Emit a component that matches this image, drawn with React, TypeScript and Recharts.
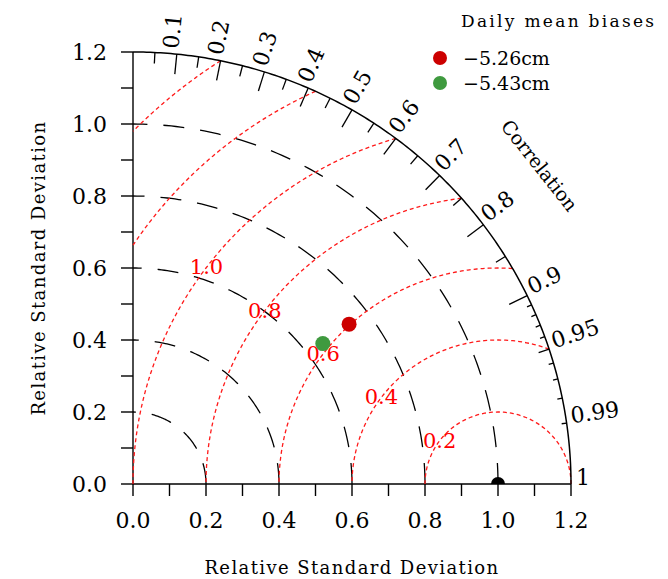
import React from 'react'
import { ScatterChart, Scatter, XAxis, YAxis } from 'recharts'

const FONT = '"DejaVu Serif", serif'

// axis ticks (relative standard deviation)
const axisTicks = [0, 0.1, 0.2, 0.3, 0.4, 0.5, 0.6, 0.7, 0.8, 0.9, 1.0, 1.1, 1.2]

// std dev contours (black, long dash) and centred RMS contours (red, short dash)
const stdArcRadii = [0.2, 0.4, 0.6, 0.8, 1.0]
const rmsArcRadii = [0.2, 0.4, 0.6, 0.8, 1.0, 1.2, 1.4]
const rmsLabelValues = [0.2, 0.4, 0.6, 0.8, 1.0]
const OUTER = 1.2

// correlation scale on the outer arc
const corrLabelValues = [0.1, 0.2, 0.3, 0.4, 0.5, 0.6, 0.7, 0.8, 0.9, 0.95, 0.99, 1]
const corrLabels = ['0.1', '0.2', '0.3', '0.4', '0.5', '0.6', '0.7', '0.8', '0.9', '0.95', '0.99', '1']
const corrMajorTicks = [0.1, 0.2, 0.3, 0.4, 0.5, 0.6, 0.7, 0.8, 0.9]
const corrMidTicks = [0.05, 0.15, 0.25, 0.35, 0.45, 0.55, 0.65, 0.75, 0.85, 0.95]
const corrFineTicks = [0.91, 0.92, 0.93, 0.94, 0.96, 0.97, 0.98, 0.99]

// models
const modelNames = ['\u22125.26cm', '\u22125.43cm']
const modelStd = [0.74, 0.65]
const modelCorr = [0.8, 0.8]
const modelColors = ['#cc0000', '#3f9a3f']

const polar = (r: number, t: number) => ({ x: r * Math.cos(t), y: r * Math.sin(t), t })

const arc = (cx: number, r: number, a0: number, a1: number, n = 120) => {
  const pts = []
  for (let i = 0; i <= n; i++) {
    const a = a0 + ((a1 - a0) * i) / n
    pts.push({ x: cx + r * Math.cos(a), y: r * Math.sin(a) })
  }
  return pts
}

const stdArcs = stdArcRadii.map(r => arc(0, r, 0, Math.PI / 2))
const outerArc = arc(0, OUTER, 0, Math.PI / 2, 200)
const rmsArcs = rmsArcRadii.map(r => {
  const xi = (1 + OUTER * OUTER - r * r) / 2
  const a0 = Math.atan2(Math.sqrt(Math.max(0, OUTER * OUTER - xi * xi)), xi - 1)
  const a1 = r >= 1 ? Math.atan2(Math.sqrt(r * r - 1), -1) : Math.PI
  return arc(1, r, a0, a1)
})

const rmsLabelAngle = (143 * Math.PI) / 180
const rmsLabelPts = rmsLabelValues.map(r => ({
  x: 1 + r * Math.cos(rmsLabelAngle),
  y: r * Math.sin(rmsLabelAngle),
  label: r.toFixed(1),
}))

const corrPts = (vals: number[]) => vals.map(c => polar(OUTER, Math.acos(c)))
const corrLabelPts = corrLabelValues.map((c, i) => ({ ...polar(OUTER, Math.acos(c)), label: corrLabels[i] }))

const modelPts = modelStd.map((s, i) => ({
  x: s * modelCorr[i],
  y: s * Math.sqrt(1 - modelCorr[i] * modelCorr[i]),
}))

const refPt = [{ x: 1, y: 0 }]
const corrTitleAngle = (38.4 * Math.PI) / 180
const corrTitlePt = [polar(OUTER, corrTitleAngle)]
const xTitlePt = [{ x: 0.6, y: 0 }]
const yTitlePt = [{ x: 0, y: 0.6 }]

const none = () => <g />

const tickShape = (len: number) => (p: any) => {
  const t = p.payload.t
  return (
    <line
      x1={p.cx}
      y1={p.cy}
      x2={p.cx - len * Math.cos(t)}
      y2={p.cy + len * Math.sin(t)}
      stroke="#000"
      strokeWidth={1.3}
    />
  )
}

const corrLabelShape = (p: any) => {
  const deg = (p.payload.t * 180) / Math.PI
  return (
    <text
      x={p.cx + 5}
      y={p.cy + 1}
      transform={`rotate(${-deg}, ${p.cx}, ${p.cy})`}
      fontFamily={FONT}
      fontSize={22}
      fill="#000"
    >
      {p.payload.label}
    </text>
  )
}

const rmsLabelShape = (p: any) => (
  <text
    x={p.cx}
    y={p.cy}
    textAnchor="middle"
    dominantBaseline="central"
    fontFamily={FONT}
    fontSize={21}
    fill="#ff0000"
  >
    {p.payload.label}
  </text>
)

const refShape = (p: any) => (
  <path d={`M ${p.cx - 7} ${p.cy} A 7 7 0 0 1 ${p.cx + 7} ${p.cy} Z`} fill="#000" />
)

const corrTitleShape = (p: any) => {
  const off = 81
  const t = p.payload.t
  const x = p.cx + off * Math.cos(t)
  const y = p.cy - off * Math.sin(t)
  const deg = 90 - (t * 180) / Math.PI
  return (
    <text
      x={x}
      y={y}
      textAnchor="middle"
      dominantBaseline="central"
      transform={`rotate(${deg}, ${x}, ${y})`}
      fontFamily={FONT}
      fontSize={19}
      fill="#000"
    >
      Correlation
    </text>
  )
}

const xTitleShape = (p: any) => (
  <text x={p.cx} y={p.cy + 90} textAnchor="middle" fontFamily={FONT} fontSize={18} letterSpacing={1.4} fill="#000">
    Relative Standard Deviation
  </text>
)

const yTitleShape = (p: any) => {
  const x = p.cx - 88
  return (
    <text
      x={x}
      y={p.cy}
      textAnchor="middle"
      transform={`rotate(-90, ${x}, ${p.cy})`}
      fontFamily={FONT}
      fontSize={18}
      letterSpacing={1.4}
      fill="#000"
    >
      Relative Standard Deviation
    </text>
  )
}

const fmt = (v: number) => (Math.round(v * 10) % 2 === 0 ? v.toFixed(1) : '')

export default function App() {
  const tickStyle = { fontFamily: FONT, fontSize: 22, fill: '#000' }
  return (
    <div style={{ position: 'absolute', left: 0, top: 0, width: 668, height: 579, background: '#fff' }}>
      <ScatterChart width={668} height={579} margin={{ top: 52, right: 97, bottom: 65, left: 69 }}>
        <XAxis
          type="number"
          dataKey="x"
          domain={[0, 1.2]}
          ticks={axisTicks}
          interval={0}
          tickFormatter={fmt}
          tick={tickStyle}
          tickSize={12}
          tickMargin={16}
          stroke="#000"
          strokeWidth={1.4}
          height={30}
        />
        <YAxis
          type="number"
          dataKey="y"
          domain={[0, 1.2]}
          ticks={axisTicks}
          interval={0}
          tickFormatter={fmt}
          tick={tickStyle}
          tickSize={12}
          tickMargin={14}
          stroke="#000"
          strokeWidth={1.4}
          width={64}
        />
        {stdArcs.map((d, i) => (
          <Scatter
            key={`std${i}`}
            data={d}
            line={{ stroke: '#000', strokeWidth: 1.3, strokeDasharray: '21 16' }}
            lineType="joint"
            shape={none}
            legendType="none"
            isAnimationActive={false}
          />
        ))}
        {rmsArcs.map((d, i) => (
          <Scatter
            key={`rms${i}`}
            data={d}
            line={{ stroke: '#ff1a1a', strokeWidth: 1.3, strokeDasharray: '4 3' }}
            lineType="joint"
            shape={none}
            legendType="none"
            isAnimationActive={false}
          />
        ))}
        <Scatter
          data={outerArc}
          line={{ stroke: '#000', strokeWidth: 1.5 }}
          lineType="joint"
          shape={none}
          legendType="none"
          isAnimationActive={false}
        />
        <Scatter data={corrPts(corrMajorTicks)} shape={tickShape(20)} legendType="none" isAnimationActive={false} />
        <Scatter data={corrPts(corrMidTicks)} shape={tickShape(11)} legendType="none" isAnimationActive={false} />
        <Scatter data={corrPts(corrFineTicks)} shape={tickShape(5)} legendType="none" isAnimationActive={false} />
        <Scatter data={corrLabelPts} shape={corrLabelShape} legendType="none" isAnimationActive={false} />
        <Scatter data={rmsLabelPts} shape={rmsLabelShape} legendType="none" isAnimationActive={false} />
        <Scatter data={corrTitlePt} shape={corrTitleShape} legendType="none" isAnimationActive={false} />
        <Scatter data={xTitlePt} shape={xTitleShape} legendType="none" isAnimationActive={false} />
        <Scatter data={yTitlePt} shape={yTitleShape} legendType="none" isAnimationActive={false} />
        <Scatter data={refPt} shape={refShape} legendType="none" isAnimationActive={false} />
        {modelPts.map((pt, i) => (
          <Scatter
            key={`m${i}`}
            name={modelNames[i]}
            data={[pt]}
            fill={modelColors[i]}
            shape={(p: any) => <circle cx={p.cx} cy={p.cy} r={7.5} fill={modelColors[i]} />}
            isAnimationActive={false}
          />
        ))}
      </ScatterChart>
      <svg width={668} height={579} style={{ position: 'absolute', left: 0, top: 0, pointerEvents: 'none' }}>
        <text x={461} y={27} fontFamily={FONT} fontSize={17} letterSpacing={2.3} fill="#000">
          Daily mean biases
        </text>
        {modelNames.map((n, i) => (
          <g key={n}>
            <circle cx={440} cy={58 + i * 25} r={7} fill={modelColors[i]} />
            <text x={463} y={65 + i * 25} fontFamily={FONT} fontSize={19} fill="#000">
              {n}
            </text>
          </g>
        ))}
      </svg>
    </div>
  )
}
